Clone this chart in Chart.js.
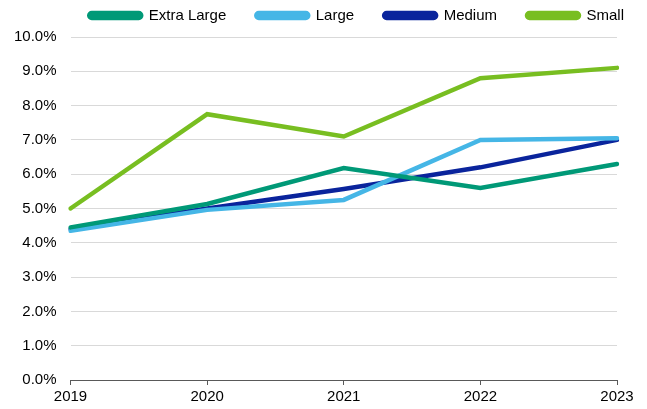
<!DOCTYPE html>
<html>
<head>
<meta charset="utf-8">
<script src="https://cdn.jsdelivr.net/npm/chart.js@4"></script>
<style>
  html, body { margin: 0; padding: 0; background: #fff; }
  .chart__wrap { width: 647px; height: 409px; }
</style>
</head>
<body>
<div class="chart__wrap"><canvas id="chart"></canvas></div>
<script>
const years = ['2019', '2020', '2021', '2022', '2023']
const extraLarge = [4.45, 5.13, 6.18, 5.6, 6.3]
const large = [4.35, 4.96, 5.25, 7.0, 7.05]
const medium = [4.4, 5.0, 5.57, 6.2, 7.0]
const small = [5.0, 7.75, 7.1, 8.8, 9.1]

const font = { family: '"Liberation Sans", Arial, sans-serif', size: 15 }

const line = (label, data, color) => ({
    label: label,
    data: data,
    borderColor: color,
    backgroundColor: color,
    borderWidth: 4.5,
    pointRadius: 0,
    tension: 0,
    borderCapStyle: 'round',
})

// nudge the legend so it sits like the original (right shifted, a bit higher)
const legendNudge = {
    id: 'legendNudge',
    afterLayout(chart) {
        const lg = chart.legend
        if (!lg) return
        lg.left += 37
        lg.right += 37
        lg.top -= 4
        lg.bottom -= 4
    },
}

const ctx = document.getElementById('chart')
new Chart(ctx, {
    type: 'line',
    data: {
        labels: years,
        datasets: [
            line('Extra Large', extraLarge, '#009977'),
            line('Large', large, '#45b6e6'),
            line('Medium', medium, '#0a249c'),
            line('Small', small, '#78be21'),
        ],
    },
    plugins: [legendNudge],
    options: {
        responsive: true,
        maintainAspectRatio: false,
        animation: false,
        layout: { padding: { top: -18, right: 30, left: 0, bottom: 0 } },
        plugins: {
            tooltip: { enabled: false },
            legend: {
                position: 'top',
                align: 'end',
                labels: {
                    font: font,
                    color: '#000',
                    boxWidth: 52,
                    boxHeight: 5,
                    useBorderRadius: true,
                    borderRadius: 2.5,
                    padding: 30,
                },
            },
        },
        scales: {
            x: {
                offset: false,
                grid: { drawOnChartArea: false, color: '#595959', tickLength: 5 },
                border: { color: '#595959' },
                ticks: { font: font, color: '#000', padding: 3, maxRotation: 0 },
            },
            y: {
                min: 0,
                max: 10,
                grid: { color: '#d9d9d9', drawTicks: false },
                border: { display: false },
                ticks: {
                    stepSize: 1,
                    font: font,
                    color: '#000',
                    padding: 14,
                    callback: v => v.toFixed(1) + '%',
                },
            },
        },
    },
})
</script>
</body>
</html>
